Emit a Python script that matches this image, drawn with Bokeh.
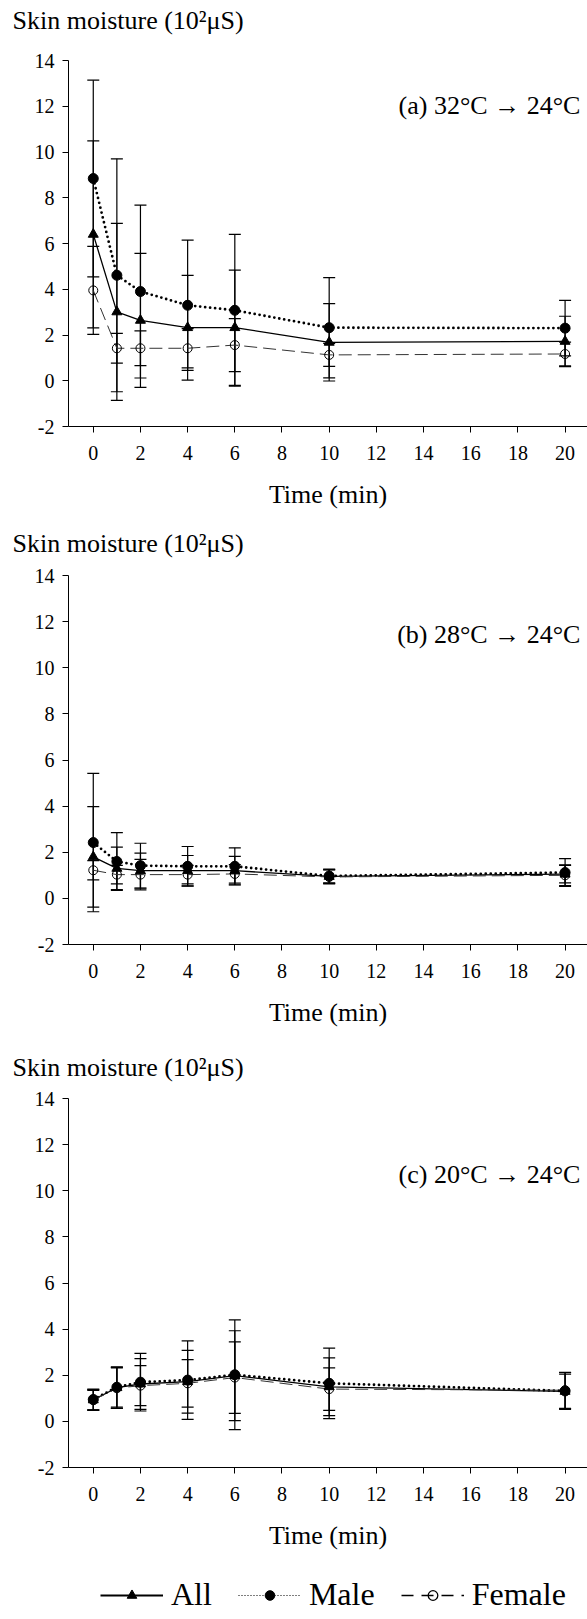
import numpy as np
from bokeh.plotting import figure
from bokeh.models import Range1d, FixedTicker, Label, Legend, LegendItem
from bokeh.layouts import column
from bokeh.embed import file_html
from bokeh.resources import INLINE

FONT = "Liberation Serif"

# ---------------- data ----------------
time_min = [0, 1, 2, 4, 6, 10, 20]
x_tick_values = [0, 2, 4, 6, 8, 10, 12, 14, 16, 18, 20]
y_tick_values = [-2, 0, 2, 4, 6, 8, 10, 12, 14]
y_axis_title = "Skin moisture (10²μS)"
x_axis_title = "Time (min)"
series_names = ["All", "Male", "Female"]
panel_tags = ["(a) 32°C → 24°C", "(b) 28°C → 24°C", "(c) 20°C → 24°C"]

# panel (a) 32 -> 24
all_a = [6.40, 3.01, 2.64, 2.32, 2.32, 1.68, 1.72]
all_a_sd = [4.09, 3.87, 2.93, 2.29, 2.52, 1.69, 1.10]
male_a = [8.84, 4.61, 3.90, 3.30, 3.08, 2.32, 2.30]
male_a_sd = [4.30, 5.09, 3.78, 2.85, 3.32, 2.19, 1.21]
female_a = [3.95, 1.42, 1.42, 1.42, 1.56, 1.13, 1.17]
female_a_sd = [1.92, 0.65, 0.76, 0.86, 1.16, 0.50, 0.52]

# panel (b) 28 -> 24
all_b = [1.80, 1.30, 1.20, 1.20, 1.20, 0.95, 1.05]
all_b_sd = [2.18, 0.92, 0.76, 0.66, 0.62, 0.30, 0.38]
male_b = [2.42, 1.60, 1.42, 1.39, 1.39, 0.97, 1.12]
male_b_sd = [3.00, 1.25, 0.97, 0.86, 0.80, 0.30, 0.60]
female_b = [1.22, 1.03, 1.03, 1.03, 1.06, 0.93, 1.00]
female_b_sd = [0.42, 0.40, 0.66, 0.40, 0.40, 0.30, 0.45]

# panel (c) 20 -> 24
all_c = [0.93, 1.46, 1.62, 1.72, 1.98, 1.50, 1.30]
all_c_sd = [0.45, 0.90, 1.10, 1.36, 1.95, 1.25, 0.75]
male_c = [0.95, 1.48, 1.70, 1.79, 2.02, 1.65, 1.32]
male_c_sd = [0.45, 0.86, 1.25, 1.70, 2.38, 1.53, 0.80]
female_c = [0.92, 1.44, 1.55, 1.65, 1.90, 1.40, 1.35]
female_c_sd = [0.42, 0.88, 0.87, 1.03, 1.55, 0.92, 0.78]

panel_data = [
    {"All": (all_a, all_a_sd), "Male": (male_a, male_a_sd), "Female": (female_a, female_a_sd)},
    {"All": (all_b, all_b_sd), "Male": (male_b, male_b_sd), "Female": (female_b, female_b_sd)},
    {"All": (all_c, all_c_sd), "Male": (male_c, male_c_sd), "Female": (female_c, female_c_sd)},
]

# ---------------- styles / layout ----------------
X_RANGE = (-1.05, 20.95)
Y_RANGE = (-2, 14)
tag_y = [12.05, 11.45, 10.7]
title_fig_heights = [45, 47, 53]
title_min_tops = [0, 46, 52]
title_standoffs = [6, 10, 10]
fig_heights = [471, 471, 470]
fig_tops = [15, 12, 11]
fig_bottoms = [90, 90, 90]

LINE_STYLE = {
    "All": dict(line_color="black", line_width=1.3),
    "Male": dict(line_color="black", line_width=2.8, line_dash="0 5", line_cap="round"),
    "Female": dict(line_color="#333333", line_width=1, line_dash="13 6"),
}
MARKER_STYLE = {
    "All": dict(marker="triangle", size=10, fill_color="black", line_color="black"),
    "Male": dict(marker="circle", size=10, fill_color="black", line_color="black"),
    "Female": dict(marker="circle", size=9, fill_color=None, line_color="black", line_width=1),
}
LEG_LINE = {
    "All": dict(line_color="black", line_width=2.2),
    "Male": dict(line_color="black", line_width=1.2, line_dash="1 2"),
    "Female": dict(line_color="black", line_width=1.6, line_dash="12 8"),
}
LEG_MARKER = {
    "All": dict(marker="triangle", size=22, fill_color="black", line_color="black"),
    "Male": dict(marker="circle", size=22, fill_color="black", line_color="black"),
    "Female": dict(marker="circle", size=16, fill_color=None, line_color="black", line_width=1.3),
}


def make_title(i):
    t = figure(width=587, height=title_fig_heights[i],
               x_range=Range1d(*X_RANGE), y_range=Range1d(*Y_RANGE),
               output_backend="svg", toolbar_location=None,
               x_axis_type=None, y_axis_type=None,
               min_border_left=68, min_border_right=0,
               min_border_top=title_min_tops[i], min_border_bottom=0,
               title=y_axis_title)
    t.outline_line_color = None
    t.grid.visible = False
    t.title.align = "left"
    t.title.offset = -56
    t.title.standoff = title_standoffs[i]
    t.title.text_font = FONT
    t.title.text_font_size = "26px"
    t.title.text_font_style = "normal"
    t.title.text_color = "black"
    return t


def make_panel(i):
    p = figure(width=587, height=fig_heights[i],
               x_range=Range1d(*X_RANGE), y_range=Range1d(*Y_RANGE),
               output_backend="svg", toolbar_location=None,
               min_border_left=68, min_border_right=0,
               min_border_top=fig_tops[i], min_border_bottom=fig_bottoms[i],
               title=None)
    p.outline_line_color = None
    p.grid.visible = False
    p.background_fill_color = "white"
    p.border_fill_color = "white"

    for ax in (p.xaxis[0], p.yaxis[0]):
        ax.axis_line_color = "black"
        ax.axis_line_width = 1
        ax.major_tick_line_color = "black"
        ax.major_tick_out = 6
        ax.major_tick_in = 0
        ax.minor_tick_out = 0
        ax.minor_tick_in = 0
        ax.major_label_text_font = FONT
        ax.major_label_text_font_size = "20px"
        ax.major_label_text_color = "black"
    p.xaxis.ticker = FixedTicker(ticks=x_tick_values)
    p.yaxis.ticker = FixedTicker(ticks=y_tick_values)
    p.yaxis.major_label_overrides = {v: str(v) for v in y_tick_values}
    p.xaxis.major_label_standoff = 13
    p.yaxis.major_label_standoff = 8
    p.xaxis.axis_label = x_axis_title
    p.xaxis.axis_label_text_font = FONT
    p.xaxis.axis_label_text_font_size = "26px"
    p.xaxis.axis_label_text_font_style = "normal"
    p.xaxis.axis_label_text_color = "black"
    p.xaxis.axis_label_standoff = 17

    data = panel_data[i]
    x = np.array(time_min, dtype=float)
    # error bars
    for name in series_names:
        m, sd = data[name]
        m = np.array(m); sd = np.array(sd)
        up = m + sd
        lo = m - sd
        p.segment(x0=x, y0=lo, x1=x, y1=up, line_color="black", line_width=1.2)
        p.scatter(x=x, y=up, marker="dash", size=12, line_color="black", line_width=1.2)
        p.scatter(x=x, y=lo, marker="dash", size=12, line_color="black", line_width=1.2)
    # lines
    for name in series_names:
        m, sd = data[name]
        p.line(x=x, y=m, **LINE_STYLE[name])
    # markers
    for name in series_names:
        m, sd = data[name]
        p.scatter(x=x, y=m, **MARKER_STYLE[name])

    p.add_layout(Label(x=20.65, y=tag_y[i], text=panel_tags[i], text_align="right",
                       text_baseline="middle", text_font=FONT, text_font_size="26px",
                       text_color="black"))
    return p


children = []
for i in range(3):
    children.append(make_title(i))
    children.append(make_panel(i))

# legend figure
pl = figure(width=587, height=62, x_range=Range1d(*X_RANGE), y_range=Range1d(*Y_RANGE),
            output_backend="svg", toolbar_location=None,
            x_axis_type=None, y_axis_type=None,
            min_border_left=68, min_border_right=0, min_border_top=0, min_border_bottom=0)
pl.outline_line_color = None
pl.grid.visible = False
items = []
xc = np.array(time_min, dtype=float)
for name in series_names:
    m, sd = panel_data[2][name]
    lr = pl.line(x=xc, y=m, visible=False, **LEG_LINE[name])
    mr = pl.scatter(x=xc, y=m, visible=False, **LEG_MARKER[name])
    items.append(LegendItem(label=name, renderers=[lr, mr]))
legend = Legend(items=items, orientation="horizontal", location=(32, 6),
                glyph_width=63, glyph_height=24, label_standoff=8, spacing=26,
                padding=0, margin=0, border_line_color=None, background_fill_alpha=0,
                inactive_fill_alpha=0,
                label_text_font=FONT, label_text_font_size="32px", label_text_color="black")
pl.add_layout(legend, "center")
children.append(pl)

layout = column(*children, spacing=0)
open("out.html", "w").write(file_html(layout, INLINE))
